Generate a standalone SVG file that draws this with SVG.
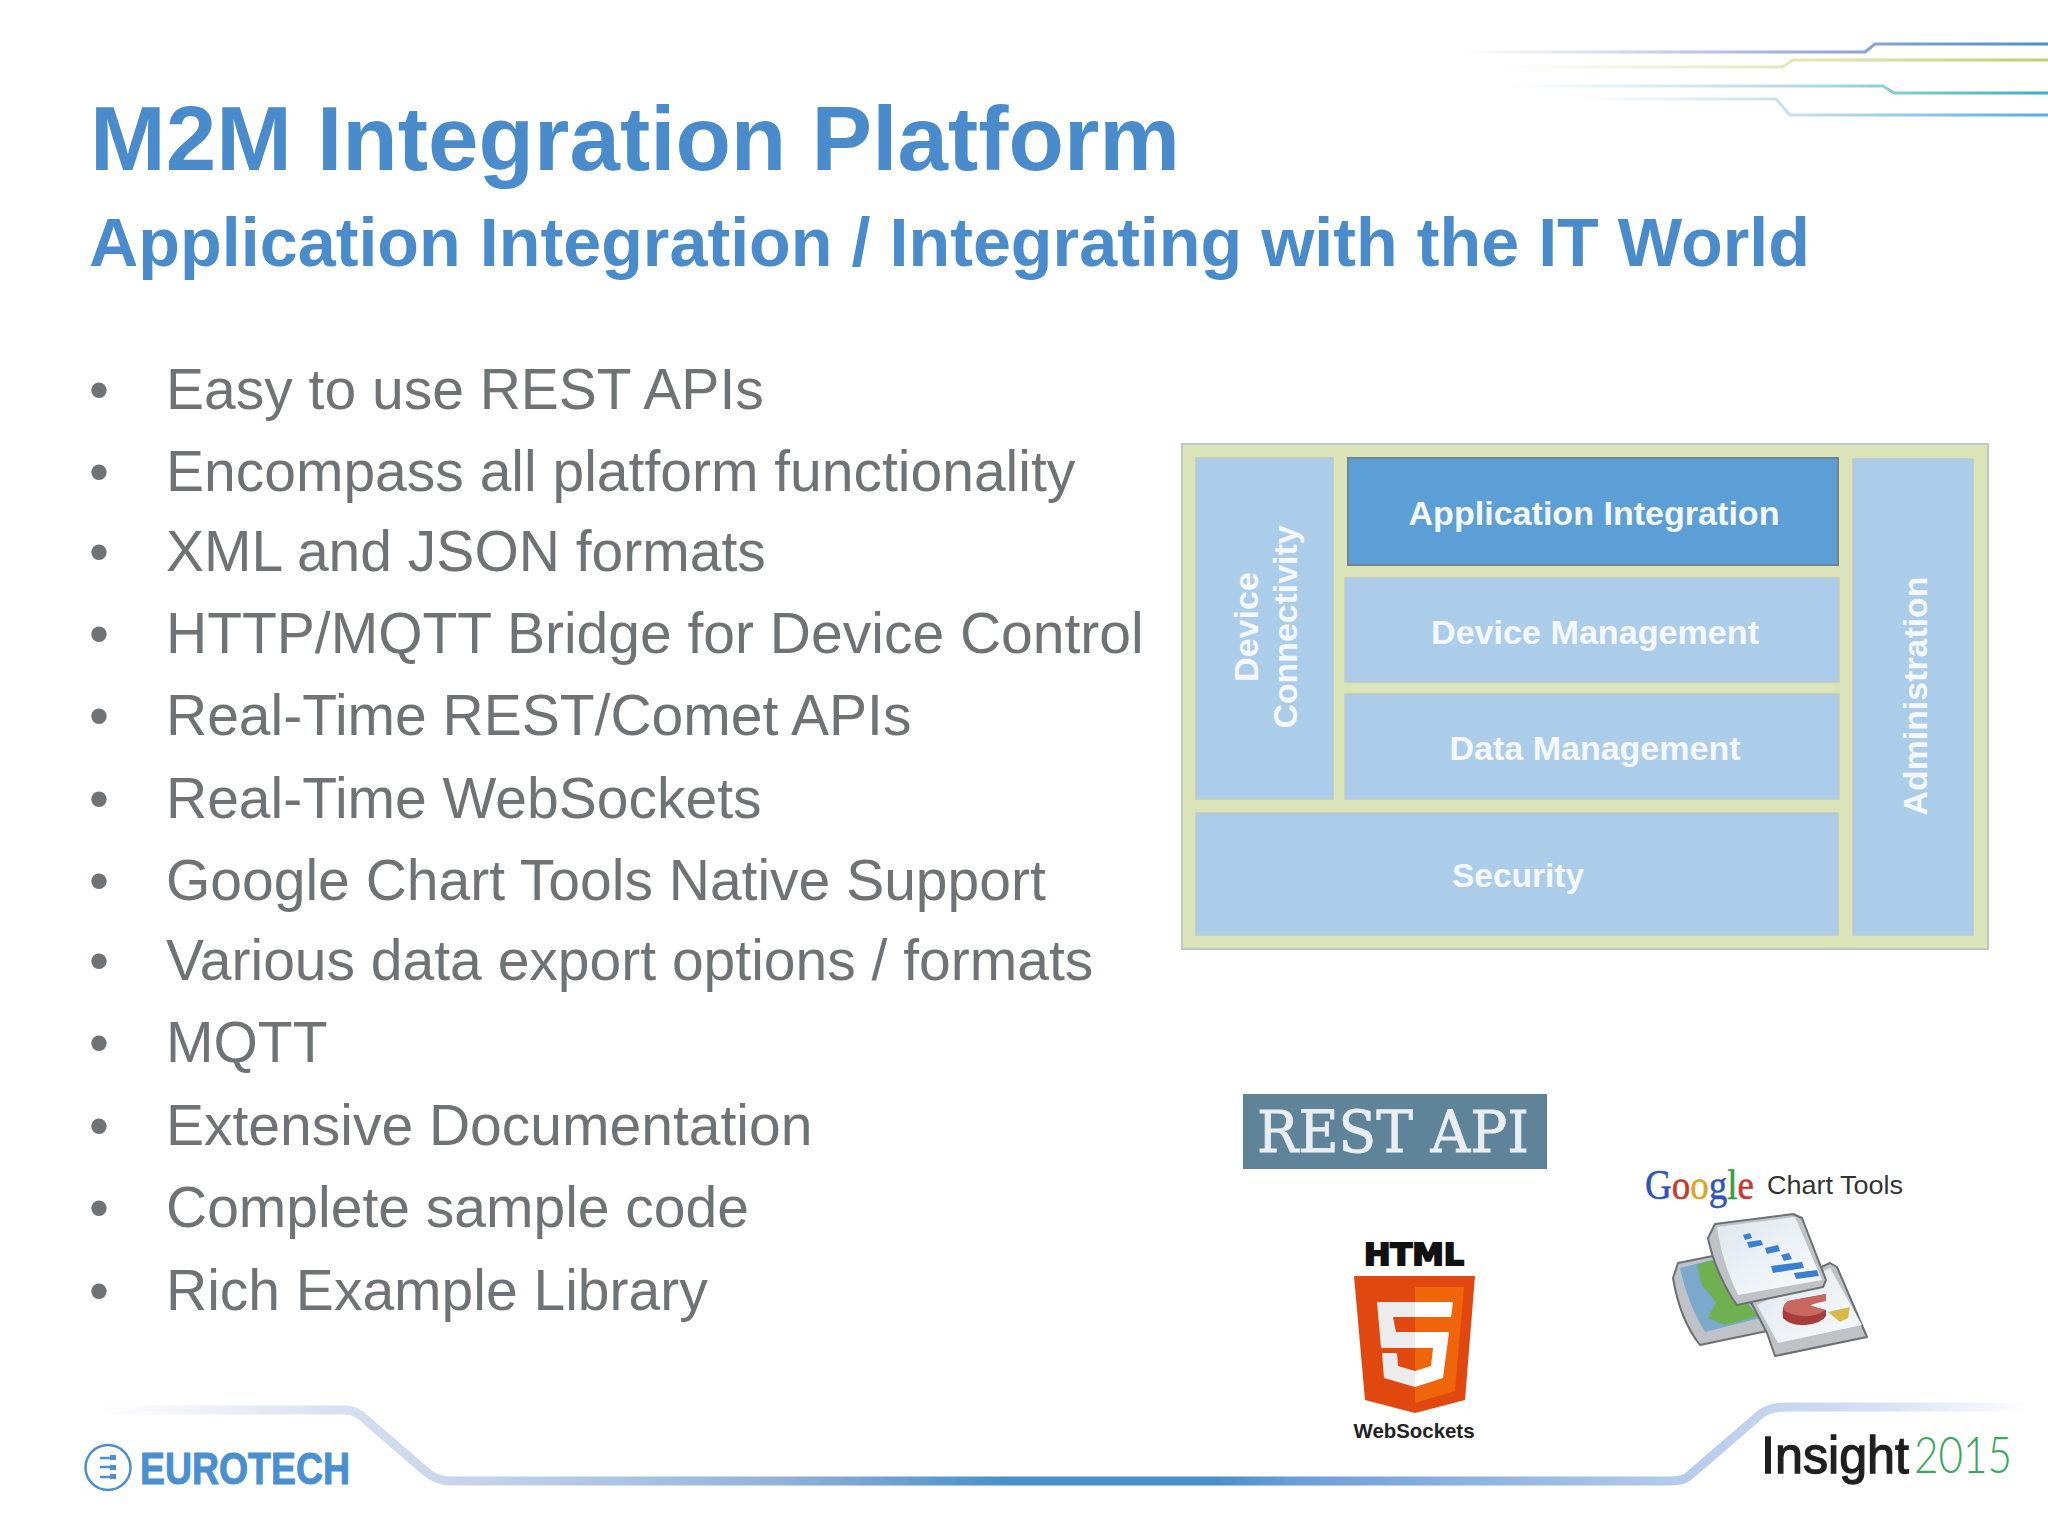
<svg xmlns="http://www.w3.org/2000/svg" width="2048" height="1536" viewBox="0 0 2048 1536">
<style>
text{font-family:"Liberation Sans",Arial,sans-serif}
.b{font-size:57px;fill:#707375}
.w{font-weight:bold;fill:#f4f8fc;font-size:34px;text-anchor:middle}
.box{fill:#accdea;stroke:#bcc8cc;stroke-width:1.5}
.line{fill:none;stroke-width:3}
.band{fill:none;stroke-width:9;stroke-linejoin:round}
.edge{fill:#bfc3c7;stroke:#6b7073;stroke-width:2;stroke-linejoin:round}
</style>
<defs>
<linearGradient id="bandG" gradientUnits="userSpaceOnUse" x1="98" y1="0" x2="2030" y2="0">
<stop offset="0" stop-color="#ffffff"/><stop offset="0.12" stop-color="#d9e1f1"/><stop offset="0.2" stop-color="#c3d2ea"/><stop offset="0.35" stop-color="#93b2db"/><stop offset="0.47" stop-color="#4a90c6"/><stop offset="0.58" stop-color="#4a90c6"/><stop offset="0.62" stop-color="#6b9ed8"/><stop offset="0.82" stop-color="#b5cbeb"/><stop offset="0.92" stop-color="#d5e0f3"/><stop offset="1" stop-color="#ffffff"/>
</linearGradient>
<linearGradient id="l1" gradientUnits="userSpaceOnUse" x1="1462" y1="0" x2="2048" y2="0"><stop offset="0" stop-color="#fff"/><stop offset="0.6" stop-color="#9aa9d8"/><stop offset="1" stop-color="#4f8fc4"/></linearGradient>
<linearGradient id="l2" gradientUnits="userSpaceOnUse" x1="1491" y1="0" x2="2048" y2="0"><stop offset="0" stop-color="#fff"/><stop offset="0.6" stop-color="#dfe6b0"/><stop offset="1" stop-color="#bccf70"/></linearGradient>
<linearGradient id="l3" gradientUnits="userSpaceOnUse" x1="1507" y1="0" x2="2048" y2="0"><stop offset="0" stop-color="#fff"/><stop offset="0.6" stop-color="#a8d8dc"/><stop offset="1" stop-color="#38b0bc"/></linearGradient>
<linearGradient id="l4" gradientUnits="userSpaceOnUse" x1="1578" y1="0" x2="2048" y2="0"><stop offset="0" stop-color="#fff"/><stop offset="0.5" stop-color="#bcdcf0"/><stop offset="1" stop-color="#58aedc"/></linearGradient>
<linearGradient id="sheet" x1="0" y1="0" x2="1" y2="1"><stop offset="0" stop-color="#dfe8ee"/><stop offset="1" stop-color="#f8fafc"/></linearGradient>
</defs>
<rect width="2048" height="1536" fill="#ffffff"/>

<g id="header-lines">
<path class="line" stroke="url(#l1)" d="M1462 52H1865L1875 44H2048"/>
<path class="line" stroke="url(#l2)" d="M1491 67H1782L1793 60H2048"/>
<path class="line" stroke="url(#l3)" d="M1507 86H1883L1894 93H2048"/>
<path class="line" stroke="url(#l4)" d="M1578 99H1776L1790 115H2048"/>
</g>

<g id="title">
<text x="90" y="170" font-size="90" font-weight="bold" fill="#4a8ccb" textLength="1090" lengthAdjust="spacingAndGlyphs">M2M Integration Platform</text>
<text x="89" y="266" font-size="69" font-weight="bold" fill="#4a8ccb" textLength="1721" lengthAdjust="spacingAndGlyphs">Application Integration / Integrating with the IT World</text>
</g>

<g id="bullets">
<text class="b" x="89" y="409">•</text><text class="b" x="166" y="409">Easy to use REST APIs</text>
<text class="b" x="89" y="491">•</text><text class="b" x="166" y="491">Encompass all platform functionality</text>
<text class="b" x="89" y="571">•</text><text class="b" x="166" y="571">XML and JSON formats</text>
<text class="b" x="89" y="653">•</text><text class="b" x="166" y="653">HTTP/MQTT Bridge for Device Control</text>
<text class="b" x="89" y="735">•</text><text class="b" x="166" y="735">Real-Time REST/Comet APIs</text>
<text class="b" x="89" y="818">•</text><text class="b" x="166" y="818">Real-Time WebSockets</text>
<text class="b" x="89" y="900">•</text><text class="b" x="166" y="900">Google Chart Tools Native Support</text>
<text class="b" x="89" y="980">•</text><text class="b" x="166" y="980">Various data export options / formats</text>
<text class="b" x="89" y="1062">•</text><text class="b" x="166" y="1062">MQTT</text>
<text class="b" x="89" y="1145">•</text><text class="b" x="166" y="1145">Extensive Documentation</text>
<text class="b" x="89" y="1227">•</text><text class="b" x="166" y="1227">Complete sample code</text>
<text class="b" x="89" y="1310">•</text><text class="b" x="166" y="1310">Rich Example Library</text>
</g>

<g id="platform">
<rect x="1182" y="444" width="806" height="505" fill="#dbe3b8" stroke="#c0c6c4" stroke-width="2"/>
<g id="device-connectivity"><rect class="box" x="1196" y="458" width="137" height="341"/>
<text class="w" transform="translate(1258 627) rotate(-90)" textLength="110" lengthAdjust="spacingAndGlyphs">Device</text>
<text class="w" transform="translate(1297 627) rotate(-90)" textLength="203" lengthAdjust="spacingAndGlyphs">Connectivity</text></g>
<g id="application-integration"><rect x="1348" y="458" width="490" height="107" fill="#5b9fd6" stroke="#6f8594" stroke-width="2"/>
<text class="w" x="1594" y="525" fill="#ffffff" textLength="371" lengthAdjust="spacingAndGlyphs">Application Integration</text></g>
<g id="device-management"><rect class="box" x="1345" y="578" width="494" height="104"/>
<text class="w" x="1595" y="644" textLength="328" lengthAdjust="spacingAndGlyphs">Device Management</text></g>
<g id="data-management"><rect class="box" x="1345" y="694" width="494" height="105"/>
<text class="w" x="1595" y="760" textLength="291" lengthAdjust="spacingAndGlyphs">Data Management</text></g>
<g id="security"><rect class="box" x="1196" y="813" width="642" height="122"/>
<text class="w" x="1518" y="887" textLength="132" lengthAdjust="spacingAndGlyphs">Security</text></g>
<g id="administration"><rect class="box" x="1853" y="459" width="120" height="476"/>
<text class="w" transform="translate(1927 696) rotate(-90)" textLength="239" lengthAdjust="spacingAndGlyphs">Administration</text></g>
</g>

<g id="rest-api">
<rect x="1243" y="1094" width="304" height="75" fill="#5f8499"/>
<text x="1393" y="1152" text-anchor="middle" style="font-family:'DejaVu Serif','Liberation Serif',serif" font-size="58" fill="#e8eef1" stroke="#e8eef1" stroke-width="0.8" textLength="272" lengthAdjust="spacingAndGlyphs">REST API</text>
</g>

<g id="html5">
<text x="1414" y="1265" text-anchor="middle" style="font-family:'DejaVu Sans',sans-serif" font-size="30" font-weight="bold" fill="#111" stroke="#111" stroke-width="2" textLength="100" lengthAdjust="spacingAndGlyphs">HTML</text>
<path d="M1354 1276H1475L1465 1400L1415 1413L1365 1400Z" fill="#e0480f"/>
<path d="M1415 1287H1464L1455 1391L1415 1403Z" fill="#f0640a"/>
<path d="M1377 1302H1415V1317H1393L1396 1332H1415V1348H1381ZM1382 1353H1397L1398 1366L1415 1371V1387L1384 1378Z" fill="#ececec"/>
<path d="M1415 1302H1453L1451 1317H1415ZM1415 1332H1449L1443 1378L1415 1387V1371L1431 1366L1433 1348H1415Z" fill="#ffffff"/>
<text x="1414" y="1438" text-anchor="middle" font-size="21" font-weight="bold" fill="#222" textLength="121" lengthAdjust="spacingAndGlyphs">WebSockets</text>
</g>

<g id="google-chart-tools">
<text x="1645" y="1199" style="font-family:'Liberation Serif',serif" font-size="42" stroke-width="0.5" textLength="109" lengthAdjust="spacingAndGlyphs"><tspan fill="#2f55b8" stroke="#2f55b8">G</tspan><tspan fill="#c8362c" stroke="#c8362c">o</tspan><tspan fill="#d8a820" stroke="#d8a820">o</tspan><tspan fill="#2f55b8" stroke="#2f55b8">g</tspan><tspan fill="#3a9a3c" stroke="#3a9a3c">l</tspan><tspan fill="#c8362c" stroke="#c8362c">e</tspan></text>
<text x="1767" y="1194" font-size="25" fill="#333" textLength="136" lengthAdjust="spacingAndGlyphs">Chart Tools</text>
<path class="edge" d="M1673 1278L1678 1263L1713 1256L1772 1330L1700 1345Q1680 1320 1673 1278Z"/>
<path d="M1680 1268L1712 1260L1760 1318L1705 1332Q1688 1305 1680 1268Z" fill="#7aa9cc"/>
<path d="M1697 1265L1712 1260L1758 1316L1725 1325L1708 1318L1716 1302L1702 1285Z" fill="#6fb050"/>
<path class="edge" d="M1830 1263L1837 1267L1867 1337L1775 1356L1767 1333L1750 1300Z"/>
<path d="M1830 1268L1862 1325L1778 1343L1757 1305Z" fill="url(#sheet)"/>
<path class="edge" d="M1708 1238L1715 1224L1793 1214L1802 1218L1826 1280L1823 1287L1737 1305L1732 1298Q1714 1268 1708 1238Z"/>
<path d="M1717 1227L1795 1217L1822 1280L1738 1295Q1722 1262 1717 1227Z" fill="url(#sheet)"/>
<g fill="#3a7fd0">
<path d="M1743 1235L1750 1233L1752 1238L1745 1240Z"/>
<path d="M1747 1242L1761 1240L1763 1245L1749 1248Z"/>
<path d="M1765 1248L1778 1245L1780 1251L1767 1254Z"/>
<path d="M1781 1255L1789 1253L1792 1259L1784 1261Z"/>
<path d="M1771 1266L1802 1262L1804 1268L1773 1273Z"/>
<path d="M1794 1273L1817 1270L1819 1276L1796 1279Z"/>
</g>
<path d="M1826 1294L1788 1301Q1781 1306 1783 1318Q1790 1326 1806 1325Q1822 1323 1826 1316L1826 1310L1810 1306Z" fill="#a83c3c"/>
<path d="M1826 1294L1788 1301Q1781 1306 1785 1311Q1795 1317 1809 1316Q1820 1315 1825 1310L1809 1305L1826 1301Z" fill="#c86660"/>
<path d="M1828 1312L1850 1307L1848 1318L1840 1322Z" fill="#d8b84a"/>
</g>

<g id="footer">
<path class="band" stroke="url(#bandG)" d="M98 1410H345Q357 1410 366 1420L424 1470Q436 1481 450 1481H1670Q1684 1481 1690 1475L1762 1413Q1772 1407 1785 1407H2030"/>
</g>

<g id="eurotech">
<circle cx="108" cy="1467.5" r="22.5" fill="none" stroke="#4a8fd0" stroke-width="2.5"/>
<path d="M100 1458H111M100 1467H111M100 1477H111" stroke="#4a8fd0" stroke-width="2.5"/>
<path d="M110 1455h6v5h-6zM110 1465h6v5h-6zM110 1474h6v5h-6z" fill="#4a8fd0"/>
<text x="140" y="1484" font-size="45" font-weight="bold" fill="#4a8fd0" stroke="#4a8fd0" stroke-width="1" textLength="210" lengthAdjust="spacingAndGlyphs">EUROTECH</text>
</g>

<g id="insight">
<text x="1761" y="1473" font-size="52" fill="#1f1f1f" stroke="#1f1f1f" stroke-width="1.3" textLength="148" lengthAdjust="spacingAndGlyphs">Insight</text>
<text x="1914" y="1473" style="font-family:'Lato','Liberation Sans',sans-serif;font-weight:300" font-size="52" fill="#3aa85a" textLength="98" lengthAdjust="spacingAndGlyphs">2015</text>
</g>
</svg>
